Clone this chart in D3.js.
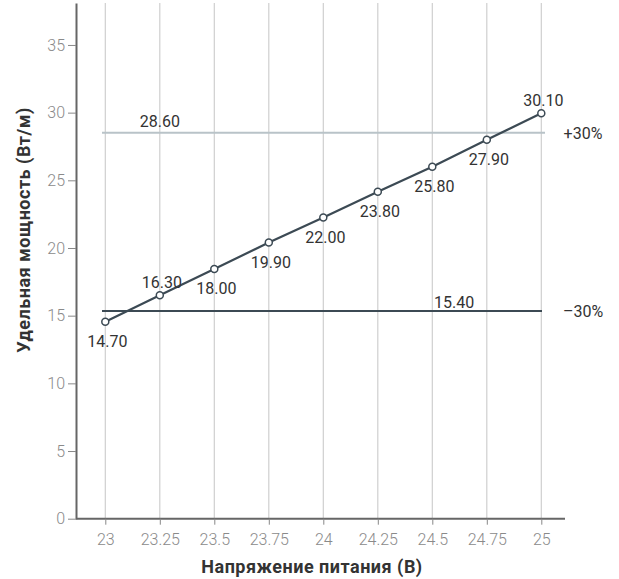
<!DOCTYPE html>
<html>
<head>
<meta charset="utf-8">
<script src="https://cdn.jsdelivr.net/npm/d3@7"></script>
<style>
  body { margin: 0; background: #fff; }
  text { font-family: Roboto, "DejaVu Sans", sans-serif; }
</style>
</head>
<body>
<div id="chart"></div>
<script>
// Data (plotted positions, labels as printed)
const voltage = [23, 23.25, 23.5, 23.75, 24, 24.25, 24.5, 24.75, 25];
const power = [14.55, 16.5, 18.45, 20.4, 22.25, 24.15, 26.0, 28.0, 29.95];
const powerLabels = ['14.70', '16.30', '18.00', '19.90', '22.00', '23.80', '25.80', '27.90', '30.10'];
const labelAbove = [false, true, false, false, false, false, false, false, true];
const xTicks = [23, 23.25, 23.5, 23.75, 24, 24.25, 24.5, 24.75, 25];
const yTicks = [0, 5, 10, 15, 20, 25, 30, 35];
const limits = [28.52, 15.35];
const limitLabels = ['28.60', '15.40'];
const limitTags = ['+30%', '\u201330%'];
const limitLabelAt = [23.25, 24.6];

const width = 619;
const height = 579;

const svg = d3.select('#chart')
  .append('svg')
  .attr('width', width)
  .attr('height', height);

const x = d3.scaleLinear().domain([23, 25]).range([105.3, 541.3]);
const y = d3.scaleLinear().domain([0, 38.1]).range([518.7, 3]);

const axisLeft = 76;
const axisRight = 565;
const limitColors = ['#b9c3c8', '#3c4a54'];

// Vertical gridlines
svg.append('g')
  .selectAll('line')
  .data(xTicks)
  .enter()
  .append('line')
  .attr('x1', d => x(d))
  .attr('x2', d => x(d))
  .attr('y1', y(38.1))
  .attr('y2', y(0))
  .attr('stroke', '#cfcfcf')
  .attr('stroke-width', 1.2);

// Y axis
const yAxis = svg.append('g')
  .attr('transform', `translate(${axisLeft},0)`)
  .call(d3.axisLeft(y).tickValues(yTicks).tickSize(8).tickPadding(3).tickSizeOuter(0));
yAxis.select('.domain').attr('stroke', '#666').attr('stroke-width', 2);
yAxis.selectAll('.tick line').attr('stroke', '#888');
yAxis.selectAll('.tick text')
  .attr('fill', '#8a8a8a')
  .attr('font-size', 16)
  .attr('font-weight', 300)
  .attr('font-family', 'Roboto, sans-serif');

// X axis
const xAxis = svg.append('g')
  .attr('transform', `translate(0,${y(0)})`)
  .call(d3.axisBottom(x).tickValues(xTicks).tickSize(6).tickPadding(9)
    .tickFormat(d => String(d)));
xAxis.select('.domain')
  .attr('d', `M${axisLeft},0H${axisRight}`)
  .attr('stroke', '#666')
  .attr('stroke-width', 2);
xAxis.selectAll('.tick line').attr('stroke', '#888');
xAxis.selectAll('.tick text')
  .attr('fill', '#8a8a8a')
  .attr('font-size', 16)
  .attr('font-weight', 300)
  .attr('font-family', 'Roboto, sans-serif');

// Limit lines
svg.append('g')
  .selectAll('line')
  .data(limits)
  .enter()
  .append('line')
  .attr('x1', 102)
  .attr('x2', (d, i) => i === 0 ? 545 : 542)
  .attr('y1', d => y(d))
  .attr('y2', d => y(d))
  .attr('stroke', (d, i) => limitColors[i])
  .attr('stroke-width', 2);

svg.append('g')
  .selectAll('text')
  .data(limits)
  .enter()
  .append('text')
  .attr('x', (d, i) => x(limitLabelAt[i]))
  .attr('y', (d, i) => y(d) - (i === 0 ? 6 : 3))
  .attr('text-anchor', 'middle')
  .attr('font-size', 16)
  .attr('fill', '#333')
  .text((d, i) => limitLabels[i]);

svg.append('g')
  .selectAll('text')
  .data(limits)
  .enter()
  .append('text')
  .attr('x', 583)
  .attr('y', d => y(d) + 6)
  .attr('text-anchor', 'middle')
  .attr('font-size', 16)
  .attr('fill', '#333')
  .text((d, i) => limitTags[i]);

// Series line
const line = d3.line()
  .x((d, i) => x(voltage[i]))
  .y(d => y(d));

svg.append('path')
  .datum(power)
  .attr('d', line)
  .attr('fill', 'none')
  .attr('stroke', '#3c4a54')
  .attr('stroke-width', 2.2);

svg.append('g')
  .selectAll('circle')
  .data(power)
  .enter()
  .append('circle')
  .attr('cx', (d, i) => x(voltage[i]))
  .attr('cy', d => y(d))
  .attr('r', 3.5)
  .attr('fill', '#fff')
  .attr('stroke', '#3c4a54')
  .attr('stroke-width', 1.5);

// Point labels
svg.append('g')
  .selectAll('text')
  .data(power)
  .enter()
  .append('text')
  .attr('x', (d, i) => x(voltage[i]) + 2)
  .attr('y', (d, i) => y(d) + (labelAbove[i] ? -7 : 25))
  .attr('text-anchor', 'middle')
  .attr('font-size', 16)
  .attr('fill', '#333')
  .text((d, i) => powerLabels[i]);

// Axis titles
svg.append('text')
  .attr('x', 312).attr('y', 573)
  .attr('text-anchor', 'middle')
  .attr('font-size', 18)
  .attr('font-weight', 'bold')
  .attr('letter-spacing', 0.5)
  .attr('fill', '#333')
  .text('Напряжение питания (В)');

svg.append('text')
  .attr('transform', 'translate(30,230) rotate(-90)')
  .attr('text-anchor', 'middle')
  .attr('font-size', 18)
  .attr('font-weight', 'bold')
  .attr('letter-spacing', 0.5)
  .attr('fill', '#333')
  .text('Удельная мощность (Вт/м)');
</script>
</body>
</html>
